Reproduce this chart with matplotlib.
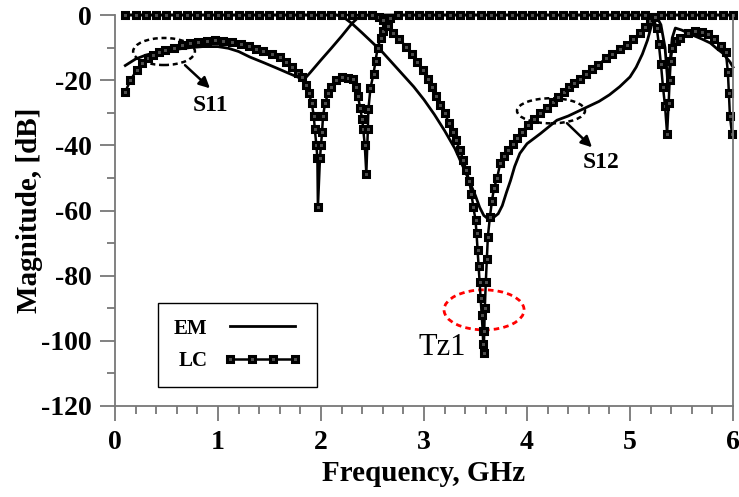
import numpy as np
import matplotlib
matplotlib.use('Agg')
import matplotlib.pyplot as plt
from matplotlib.patches import Ellipse

plt.rcParams['font.family'] = 'Liberation Serif'
plt.rcParams['axes.unicode_minus'] = False

# ---- EM (full-wave) results, solid lines ----
em_s11_f = [0.1, 0.2, 0.3, 0.4, 0.5, 0.6, 0.73, 0.85, 1.0, 1.1, 1.2, 1.31, 1.45,
            1.57, 1.68, 1.8, 1.83, 1.9, 2.0, 2.1, 2.2, 2.3, 2.36, 2.42, 2.5,
            5.25, 5.3, 5.34, 5.37, 5.39, 5.41, 5.44, 5.5, 5.61, 5.7, 5.78, 5.85,
            5.9, 5.97, 6.0]
em_s11_db = [-15.5, -13.5, -12.3, -11.5, -11, -10.5, -10, -9.7, -9.7, -10.2, -11.2,
             -12.9, -14.7, -16.3, -17.8, -19.4, -20, -17.5, -13.8, -10.2, -6.5,
             -2.6, -0.8, -0.1, 0, 0, -3, -10, -22, -14, -7, -4, -4.6, -6.2, -7.4,
             -8.6, -10.5, -11.7, -14.4, -16]

em_s12_f = [0.1, 2.15, 2.22, 2.3, 2.4, 2.5, 2.6, 2.7, 2.8, 2.9, 3.0, 3.1, 3.2, 3.3,
            3.4, 3.5, 3.54, 3.58, 3.62, 3.66, 3.7, 3.72, 3.76, 3.8, 3.84, 3.88,
            3.93, 4.0, 4.13, 4.29, 4.4, 4.5, 4.6, 4.7, 4.8, 4.9, 5.0, 5.06, 5.12,
            5.17, 5.21, 5.25, 5.3, 6.0]
em_s12_db = [0, 0, -0.7, -2.6, -5.5, -8.5, -11.5, -15, -18.5, -22, -26, -30.5,
             -35.5, -41, -48, -55.5, -59, -61.5, -62.5, -62.5, -61.5, -61, -58.5,
             -54.5, -50.8, -46.5, -42.5, -39.5, -36.4, -32.3, -31, -29.5, -28,
             -26.5, -24.5, -22, -19, -16, -12, -7.7, -3, -0.8, 0, 0]

# ---- LC (circuit model) results, square markers ----
lc_s11_f = [0.10, 0.15, 0.21, 0.26, 0.32, 0.37, 0.43, 0.49, 0.57, 0.65, 0.73, 0.81,
            0.89, 0.97, 1.05, 1.14, 1.22, 1.30, 1.37, 1.44, 1.52, 1.60, 1.66, 1.72,
            1.78, 1.82, 1.85, 1.88, 1.91, 1.93, 1.94, 1.955, 1.965, 1.97, 1.99,
            2.00, 2.01, 2.02, 2.04, 2.07, 2.10, 2.15, 2.20, 2.26, 2.31, 2.34, 2.36,
            2.38, 2.40, 2.41, 2.425, 2.44, 2.455, 2.46, 2.48, 2.51, 2.53, 2.55,
            2.58, 2.60, 2.63, 2.67, 2.75, 2.85, 2.95, 3.05, 3.15, 3.25, 3.35, 3.45,
            3.55, 3.65, 3.75, 3.85, 3.95, 4.05, 4.15, 4.25, 4.35, 4.45, 4.55, 4.65,
            4.75, 4.85, 4.95, 5.05, 5.15, 5.22, 5.26, 5.28, 5.30, 5.32, 5.34, 5.36,
            5.375, 5.385, 5.395, 5.41, 5.45, 5.49, 5.56, 5.63, 5.70, 5.76, 5.82,
            5.88, 5.93, 5.95, 5.96, 5.97, 5.99]
lc_s11_db = [-23.6, -20, -17, -14.8, -13.3, -12.3, -11.4, -10.8, -10, -9.2, -8.7,
             -8.3, -8, -7.8, -7.9, -8.3, -8.8, -9.5, -10.3, -11, -12, -13, -14.5,
             -16, -17.8, -19, -21.5, -24, -27, -31, -35, -40, -44, -59, -44, -40,
             -36, -31, -27, -24, -22, -20, -19, -19.2, -19.6, -22, -25, -28.5, -32,
             -35, -40, -48.7, -35, -29, -22.5, -18, -14, -10, -7, -5, -2.5, -0.8,
             0, 0, 0, 0, 0, 0, 0, 0, 0, 0, 0, 0, 0, 0, 0, 0, 0, 0, 0, 0, 0, 0, 0,
             0, 0, -0.5, -4, -9, -15, -22, -28, -36.4, -27, -20, -14, -10, -8, -7,
             -5.5, -5, -5.2, -5.8, -7.5, -9.5, -11.3, -17.5, -24, -31, -36.4]

lc_s12_f = [0.1, 0.2, 0.3, 0.4, 0.5, 0.6, 0.7, 0.8, 0.9, 1.0, 1.1, 1.2, 1.3, 1.4,
            1.5, 1.6, 1.7, 1.8, 1.9, 2.0, 2.1, 2.2, 2.3, 2.4, 2.5, 2.56, 2.60,
            2.65, 2.70, 2.76, 2.83, 2.88, 2.93, 2.99, 3.04, 3.08, 3.12, 3.16, 3.20,
            3.24, 3.28, 3.31, 3.35, 3.38, 3.41, 3.44, 3.46, 3.48, 3.50, 3.51, 3.52,
            3.53, 3.54, 3.55, 3.56, 3.57, 3.575, 3.58, 3.585, 3.59, 3.60, 3.61,
            3.62, 3.64, 3.66, 3.68, 3.71, 3.74, 3.78, 3.82, 3.86, 3.90, 3.95, 4.01,
            4.07, 4.13, 4.19, 4.25, 4.30, 4.36, 4.41, 4.46, 4.51, 4.57, 4.63, 4.69,
            4.77, 4.83, 4.90, 4.97, 5.03, 5.10, 5.15, 5.19, 5.24, 5.3, 5.4, 5.5,
            5.6, 5.7, 5.8, 5.9, 6.0]
lc_s12_db = [0, 0, 0, 0, 0, 0, 0, 0, 0, 0, 0, 0, 0, 0, 0, 0, 0, 0, 0, 0, 0, 0, 0,
             0, 0, -0.5, -1.5, -3.5, -5.6, -7.5, -9.8, -12, -14.5, -17, -19.5, -22,
             -25, -27.5, -30, -33, -36, -38.5, -41.5, -44.5, -47.5, -51, -55, -59,
             -63, -67, -72, -77, -82, -87, -92, -97, -101, -103.7, -97, -90, -82,
             -75, -68, -62, -57, -53, -50, -45.5, -43.3, -41.5, -39.5, -37.8, -35.8,
             -33.8, -32, -30.2, -28.5, -26.7, -25.2, -23.5, -22, -21, -19.5, -18,
             -16.6, -15.2, -13.3, -11.9, -10.5, -9.2, -7.5, -5.6, -3.6, -1.8, -0.6,
             0, 0, 0, 0, 0, 0, 0, 0]

fig = plt.figure(figsize=(7.39, 4.97), dpi=100)
ax = fig.add_axes([0.1556, 0.1831, 0.8363, 0.7867])

mk = dict(marker='s', ms=5, mew=2.2, mec='black', mfc='#505050')

ax.plot(em_s11_f, em_s11_db, color='black', lw=2, clip_on=False, label='EM')
ax.plot(em_s12_f, em_s12_db, color='black', lw=2, clip_on=False)
ax.plot(lc_s11_f, lc_s11_db, color='black', lw=1.8, clip_on=False, label='LC', **mk)
ax.plot(lc_s12_f, lc_s12_db, color='black', lw=1.8, clip_on=False, **mk)

ax.set_xlim(0, 6)
ax.set_ylim(-120, 0)
ax.set_xticks(range(7))
ax.set_xticks(np.arange(0, 6.01, 0.2), minor=True)
ax.set_yticks(range(-120, 1, 20))
ax.set_yticks(range(-120, 1, 10), minor=True)

grey = '#777777'
for s in ['left', 'bottom', 'right']:
    ax.spines[s].set_color(grey)
    ax.spines[s].set_linewidth(1.3)
ax.spines['top'].set_visible(False)
ax.tick_params(which='major', length=11, width=1.3, color=grey, pad=6,
               labelsize=20)
ax.tick_params(which='minor', length=5.5, width=1.3, color=grey)
ax.tick_params(axis='y', which='both', right=False)
for lab in ax.get_xticklabels() + ax.get_yticklabels():
    lab.set_fontweight('bold')

ax.set_xlabel('Frequency, GHz', fontsize=21, fontweight='bold', labelpad=4)
ax.set_ylabel('Magnitude, [dB]', fontsize=21, fontweight='bold')
ax.yaxis.set_label_coords(-0.1165, 0.5)

# dashed ellipses
ax.add_patch(Ellipse((0.476, -11.2), 0.60, 8.3, fill=False, ec='black', lw=1.8,
                     ls=(0, (2, 1.5)), clip_on=False))
ax.add_patch(Ellipse((4.233, -29.4), 0.66, 7.7, fill=False, ec='black', lw=1.8,
                     ls=(0, (2, 1.5)), clip_on=False))
ax.add_patch(Ellipse((3.583, -90.5), 0.777, 12.3, fill=False, ec='red', lw=2,
                     ls=(0, (2, 1.5)), clip_on=False))

arr = dict(arrowstyle='-|>', color='black', lw=1.8, mutation_scale=16,
           shrinkA=0, shrinkB=0)
ax.annotate('', xy=(0.922, -22.5), xytext=(0.68, -15.4), arrowprops=arr)
ax.annotate('', xy=(4.631, -40.6), xytext=(4.388, -33.2), arrowprops=arr)
ax.text(0.932, -27.7, 'S11', fontsize=17, fontweight='bold', ha='center', va='center')
ax.text(4.718, -45.2, 'S12', fontsize=17, fontweight='bold', ha='center', va='center')
ax.text(3.18, -102, 'Tz1', fontsize=22, ha='center', va='center')

leg = ax.legend(loc='lower left', bbox_to_anchor=(0.07, 0.049), markerfirst=False,
                numpoints=4, handlelength=3.7, fancybox=False, edgecolor='black',
                framealpha=1, borderaxespad=0, borderpad=0.75, labelspacing=0.6,
                handletextpad=0.8, prop={'weight': 'bold', 'size': 15})
leg.get_frame().set_linewidth(1.0)

fig.savefig('out.png', dpi=100)
